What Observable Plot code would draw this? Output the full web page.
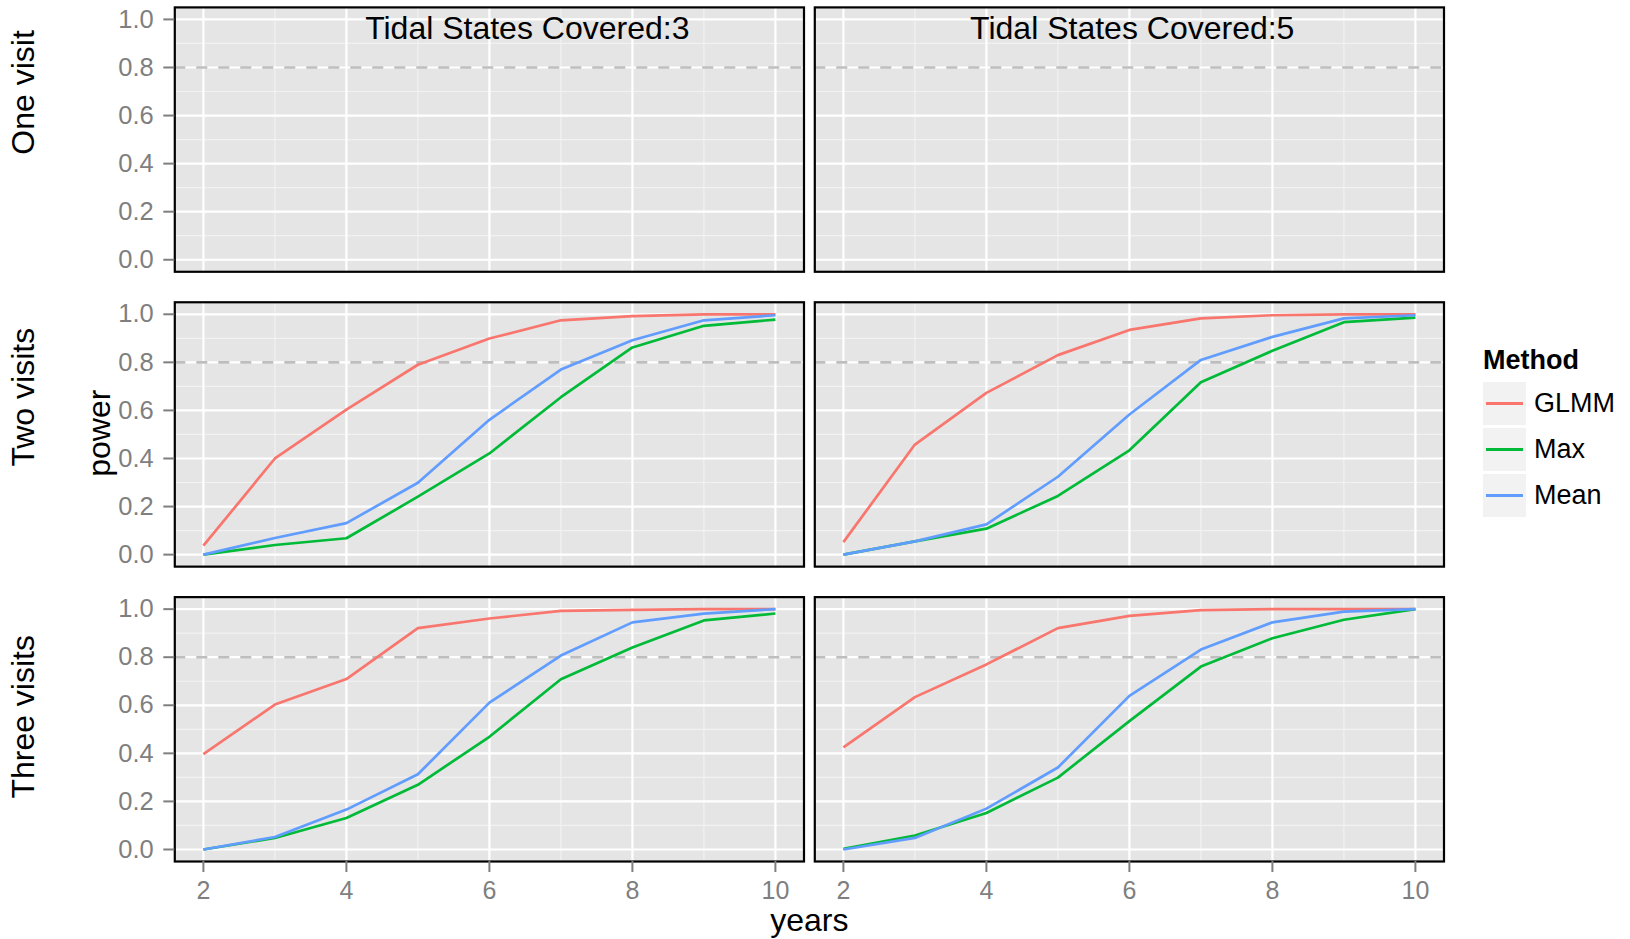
<!DOCTYPE html>
<html>
<head>
<meta charset="utf-8">
<script src="https://cdn.jsdelivr.net/npm/d3@7"></script>
<script src="https://cdn.jsdelivr.net/npm/@observablehq/plot@0.6"></script>
<style>
  html, body { margin: 0; padding: 0; background: #fff; overflow: hidden; }
  #wrap { position: relative; width: 1630px; height: 939px; font-family: "Liberation Sans", Arial, Helvetica, sans-serif; }
  #legend { position: absolute; left: 1483px; top: 345px; }
  #legend .title { font-weight: bold; font-size: 27px; line-height: 30px; height: 34px; color: #000; }
  #legend .item { display: flex; align-items: center; height: 43px; margin-top: 3px; }
  #legend .key { width: 43px; height: 43px; background: #F2F2F2; position: relative; }
  #legend .key span { position: absolute; left: 3px; right: 3px; top: 20px; height: 3px; }
  #legend .lab { font-size: 27px; margin-left: 8px; color: #000; }
</style>
</head>
<body>
<div id="wrap"><div id="legend"></div></div>
<script>
// ---------- data ----------
const tidalStates = ["3", "5"];
const facetLabels = ["Tidal States Covered:3", "Tidal States Covered:5"];
const visitRows = ["One visit", "Two visits", "Three visits"];
const years = [2, 3, 4, 5, 6, 7, 8, 9, 10];
const methods = ["GLMM", "Max", "Mean"];
const methodColors = ["#F8766D", "#00BA38", "#619CFF"];
const yTicks = [0, 0.2, 0.4, 0.6, 0.8, 1.0];
const yMinor = [0.1, 0.3, 0.5, 0.7, 0.9];
const xTicks = [2, 4, 6, 8, 10];
const xMinor = [3, 5, 7, 9];
const targetPower = 0.8;
const yTitle = "power";
const xTitle = "years";

// Two visits, tidal states 3
const two3_GLMM = [0.037, 0.400, 0.603, 0.790, 0.899, 0.975, 0.992, 1.000, 1.000];
const two3_Max  = [0.000, 0.040, 0.068, 0.241, 0.421, 0.655, 0.862, 0.952, 0.978];
const two3_Mean = [0.000, 0.069, 0.131, 0.299, 0.561, 0.770, 0.892, 0.975, 0.996];
// Two visits, tidal states 5
const two5_GLMM = [0.052, 0.458, 0.673, 0.830, 0.935, 0.983, 0.996, 1.000, 1.000];
const two5_Max  = [0.000, 0.055, 0.108, 0.244, 0.434, 0.717, 0.848, 0.967, 0.986];
const two5_Mean = [0.000, 0.055, 0.126, 0.324, 0.583, 0.810, 0.906, 0.983, 0.996];
// Three visits, tidal states 3
const three3_GLMM = [0.397, 0.603, 0.709, 0.921, 0.961, 0.993, 0.997, 1.000, 1.000];
const three3_Max  = [0.000, 0.048, 0.131, 0.269, 0.469, 0.708, 0.840, 0.953, 0.982];
const three3_Mean = [0.000, 0.052, 0.166, 0.313, 0.611, 0.807, 0.945, 0.981, 1.000];
// Three visits, tidal states 5
const three5_GLMM = [0.425, 0.634, 0.770, 0.921, 0.972, 0.996, 1.000, 1.000, 1.000];
const three5_Max  = [0.003, 0.058, 0.152, 0.299, 0.534, 0.761, 0.879, 0.956, 1.000];
const three5_Mean = [0.000, 0.048, 0.170, 0.341, 0.639, 0.832, 0.945, 0.990, 1.000];

// ---------- tables ----------
const seriesList = [
  ["3", "Two visits", "GLMM", two3_GLMM], ["3", "Two visits", "Max", two3_Max], ["3", "Two visits", "Mean", two3_Mean],
  ["5", "Two visits", "GLMM", two5_GLMM], ["5", "Two visits", "Max", two5_Max], ["5", "Two visits", "Mean", two5_Mean],
  ["3", "Three visits", "GLMM", three3_GLMM], ["3", "Three visits", "Max", three3_Max], ["3", "Three visits", "Mean", three3_Mean],
  ["5", "Three visits", "GLMM", three5_GLMM], ["5", "Three visits", "Max", three5_Max], ["5", "Three visits", "Mean", three5_Mean]
];
const rows = seriesList.flatMap(([tidal, visits, method, vals]) =>
  vals.map((v, i) => ({tidal, visits, method, year: years[i], power: v})));

const panels = visitRows.flatMap(visits => tidalStates.map(tidal => ({tidal, visits})));
const cross = (vals) => panels.flatMap(p => vals.map(v => ({...p, v})));

const font = "Liberation Sans, Arial, Helvetica, sans-serif";

// annotation placement (layout, not data)
const stripX = {"3": 6.53, "5": 6.04};
const rowLabelY = {"One visit": 0.696, "Two visits": 0.655, "Three visits": 0.552};

const chart = Plot.plot({
  width: 1630,
  height: 939,
  marginLeft: 174.3,
  marginRight: 186.5,
  marginTop: 6.9,
  marginBottom: 78,
  style: {fontFamily: font, background: "white"},
  fx: {domain: tidalStates, paddingInner: 0.016875, paddingOuter: 0, round: false, axis: null, label: null},
  fy: {domain: visitRows, paddingInner: 0.1034, paddingOuter: 0, round: false, axis: null, label: null},
  x: {domain: [1.6, 10.4], label: null},
  y: {domain: [-0.05, 1.05], label: null},
  color: {domain: methods, range: methodColors},
  marks: [
    Plot.frame({fill: "#E5E5E5", stroke: null}),
    Plot.ruleY(cross(yMinor), {y: "v", fx: "tidal", fy: "visits", stroke: "#F2F2F2", strokeWidth: 1.2}),
    Plot.ruleX(cross(xMinor), {x: "v", fx: "tidal", fy: "visits", stroke: "#F2F2F2", strokeWidth: 1.2}),
    Plot.ruleY(cross(yTicks), {y: "v", fx: "tidal", fy: "visits", stroke: "#FFFFFF", strokeWidth: 2.2}),
    Plot.ruleX(cross(xTicks), {x: "v", fx: "tidal", fy: "visits", stroke: "#FFFFFF", strokeWidth: 2.2}),
    Plot.ruleY(cross([targetPower]), {y: "v", fx: "tidal", fy: "visits", stroke: "#BEBEBE", strokeWidth: 2.6, strokeDasharray: "11,11"}),
    Plot.line(rows, {x: "year", y: "power", z: "method", stroke: "method", fx: "tidal", fy: "visits",
      strokeWidth: 2.7, strokeLinecap: "butt", strokeLinejoin: "round"}),
    Plot.frame({stroke: "#000", strokeWidth: 2.2, fill: null}),
    Plot.axisY({ticks: yTicks, tickFormat: d => d.toFixed(1), tickSize: 11, tickPadding: 10,
      fontSize: 25.5, color: "#7F7F7F", strokeWidth: 2, label: null}),
    Plot.axisX({ticks: xTicks, tickFormat: d => String(d), tickSize: 11, tickPadding: 9,
      fontSize: 25, color: "#7F7F7F", strokeWidth: 2, label: null}),
    // strip labels inside top panels
    Plot.text(tidalStates, {fx: d => d, fy: () => visitRows[0], x: d => stripX[d], y: () => 0.9165,
      text: (d, i) => facetLabels[i], fontSize: 32, fill: "#000", textAnchor: "middle", lineAnchor: "bottom"}),
    // row labels
    Plot.text(visitRows, {fy: d => d, fx: () => tidalStates[0], y: d => rowLabelY[d], frameAnchor: "left", dx: -151.3,
      text: d => d, rotate: -90, fontSize: 32, fill: "#000", textAnchor: "middle", lineAnchor: "middle"}),
    // y title
    Plot.text([yTitle], {fy: () => visitRows[1], fx: () => tidalStates[0], y: () => 0.505, frameAnchor: "left", dx: -75.3,
      text: d => d, rotate: -90, fontSize: 32, fill: "#000", textAnchor: "middle", lineAnchor: "middle"}),
    // x title
    Plot.text([xTitle], {fy: () => visitRows[2], fx: () => tidalStates[0], x: () => 10.475, frameAnchor: "bottom", dy: 69.5,
      text: d => d, fontSize: 32, fill: "#000", textAnchor: "middle", lineAnchor: "bottom"})
  ]
});
document.getElementById("wrap").prepend(chart);

// legend
const legend = document.getElementById("legend");
const t = document.createElement("div");
t.className = "title";
t.textContent = "Method";
legend.appendChild(t);
methods.forEach((m, i) => {
  const item = document.createElement("div");
  item.className = "item";
  const key = document.createElement("div");
  key.className = "key";
  const sw = document.createElement("span");
  sw.style.background = methodColors[i];
  key.appendChild(sw);
  const lab = document.createElement("div");
  lab.className = "lab";
  lab.textContent = m;
  item.appendChild(key);
  item.appendChild(lab);
  legend.appendChild(item);
});
</script>
</body>
</html>
